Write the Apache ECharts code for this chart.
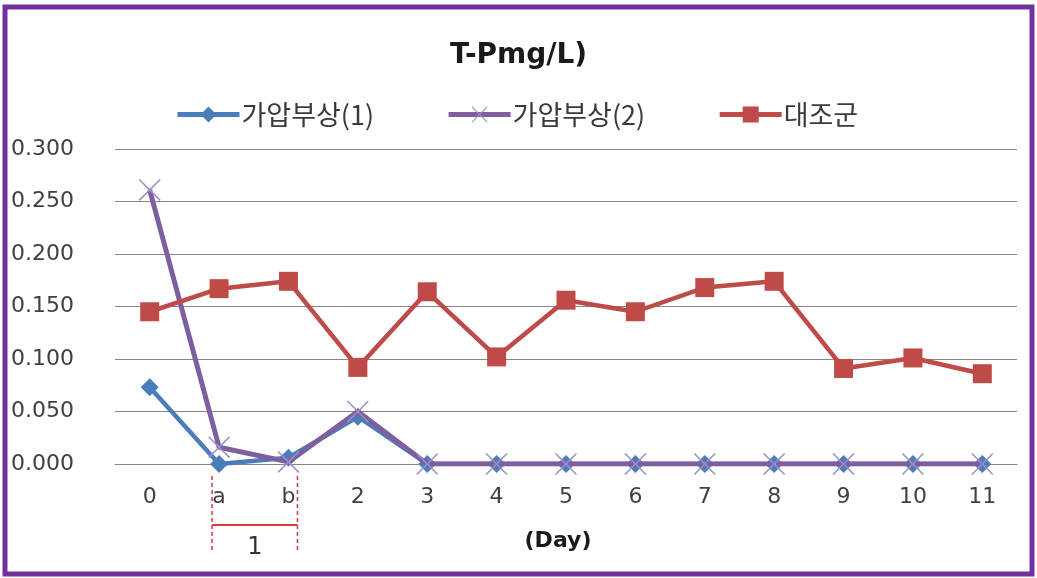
<!DOCTYPE html>
<html>
<head>
<meta charset="utf-8">
<script src="https://cdn.jsdelivr.net/npm/echarts@6/dist/echarts.min.js"></script>
<style>
html,body{margin:0;padding:0;background:#fff;}
#chart{width:1037px;height:578px;}
</style>
</head>
<body>
<div id="chart"></div>
<script>
const categories = ['0','a','b','2','3','4','5','6','7','8','9','10','11'];
const series1Name = '가압부상(1)';
const series2Name = '가압부상(2)';
const series3Name = '대조군';
const series1 = [0.073, 0.000, 0.006, 0.045, 0.000, 0.000, 0.000, 0.000, 0.000, 0.000, 0.000, 0.000, 0.000];
const series2 = [0.261, 0.016, 0.002, 0.050, 0.000, 0.000, 0.000, 0.000, 0.000, 0.000, 0.000, 0.000, 0.000];
const series3 = [0.145, 0.167, 0.174, 0.092, 0.164, 0.102, 0.156, 0.145, 0.168, 0.174, 0.091, 0.101, 0.086];
const titleText = 'T-Pmg/L)';
const xAxisName = '(Day)';
const bracketLabel = '1';

const xSymbol = 'path://M0,0.5L0.5,0L5,4.5L9.5,0L10,0.5L5.5,5L10,9.5L9.5,10L5,5.5L0.5,10L0,9.5L4.5,5Z';

const chart = echarts.init(document.getElementById('chart'));
const option = {
  animation: false,
  backgroundColor: '#ffffff',
  title: {
    text: titleText,
    left: 'center',
    top: 37,
    textStyle: {fontFamily: 'DejaVu Sans', fontWeight: 'bold', fontSize: 28, color: '#1a1a1a'}
  },
  legend: {
    left: 170,
    top: 96,
    itemWidth: 62,
    itemHeight: 20,
    itemGap: 72,
    lineStyle: {width: 5},
    textStyle: {fontFamily: 'Noto Sans CJK KR', fontSize: 27, color: '#3a3a3a', padding: [0,0,0,-3]},
    data: [series1Name, series2Name, series3Name]
  },
  grid: {left: 115, right: 20, top: 149, bottom: 114, containLabel: false},
  xAxis: {
    type: 'category',
    data: categories,
    boundaryGap: true,
    axisLine: {show: true, lineStyle: {color: '#868686', width: 1}},
    axisTick: {show: false},
    axisLabel: {fontFamily: 'DejaVu Sans', fontSize: 22, color: '#404040', margin: 22},
    name: xAxisName,
    nameLocation: 'middle',
    nameGap: 66,
    nameTextStyle: {fontFamily: 'DejaVu Sans', fontWeight: 'bold', fontSize: 22, color: '#1a1a1a', padding: [0, 16, 0, 0]}
  },
  yAxis: {
    type: 'value',
    min: 0,
    max: 0.3,
    interval: 0.05,
    axisLine: {show: false},
    axisTick: {show: false},
    splitLine: {lineStyle: {color: '#868686', width: 1}},
    axisLabel: {
      fontFamily: 'DejaVu Sans', fontSize: 22, color: '#404040',
      align: 'left', margin: 104,
      formatter: v => v.toFixed(3)
    }
  },
  series: [
    {
      name: series1Name, type: 'line', data: series1,
      symbol: 'diamond', symbolSize: [18, 18],
      lineStyle: {color: '#4A7EBB', width: 4.5},
      itemStyle: {color: '#4A7EBB'},
      z: 2
    },
    {
      name: series2Name, type: 'line', data: series2,
      symbol: xSymbol, symbolSize: 22,
      lineStyle: {color: '#7D5FA0', width: 5},
      itemStyle: {color: '#A08FC6'},
      z: 3
    },
    {
      name: series3Name, type: 'line', data: series3,
      symbol: 'rect', symbolSize: 19,
      lineStyle: {color: '#BE4B48', width: 4.5},
      itemStyle: {color: '#BE4B48'},
      z: 4
    }
  ]
};
chart.setOption(option);

// Annotation bracket under categories 'a' and 'b'
const pa = chart.convertToPixel({xAxisIndex: 0}, 'a');
const pb = chart.convertToPixel({xAxisIndex: 0}, 'b');
const xl = pa - 7, xr = pb + 9;
const red = '#D93A3A';
chart.setOption({
  graphic: [
    {type: 'line', shape: {x1: xl, y1: 476, x2: xl, y2: 551}, style: {stroke: red, lineWidth: 1.5, lineDash: [4, 3]}, z: 10},
    {type: 'line', shape: {x1: xr, y1: 476, x2: xr, y2: 551}, style: {stroke: red, lineWidth: 1.5, lineDash: [4, 3]}, z: 10},
    {type: 'line', shape: {x1: xl, y1: 525, x2: xr, y2: 525}, style: {stroke: red, lineWidth: 2}, z: 10},
    {type: 'text', x: (xl + xr) / 2, y: 548, style: {text: bracketLabel, fill: '#333', font: '24px "DejaVu Sans"', align: 'center', verticalAlign: 'middle'}, z: 10},
    {type: 'rect', shape: {x: 5, y: 7, width: 1027, height: 567}, style: {fill: 'none', stroke: '#7030A0', lineWidth: 5}, z: 100}
  ]
});
</script>
</body>
</html>
